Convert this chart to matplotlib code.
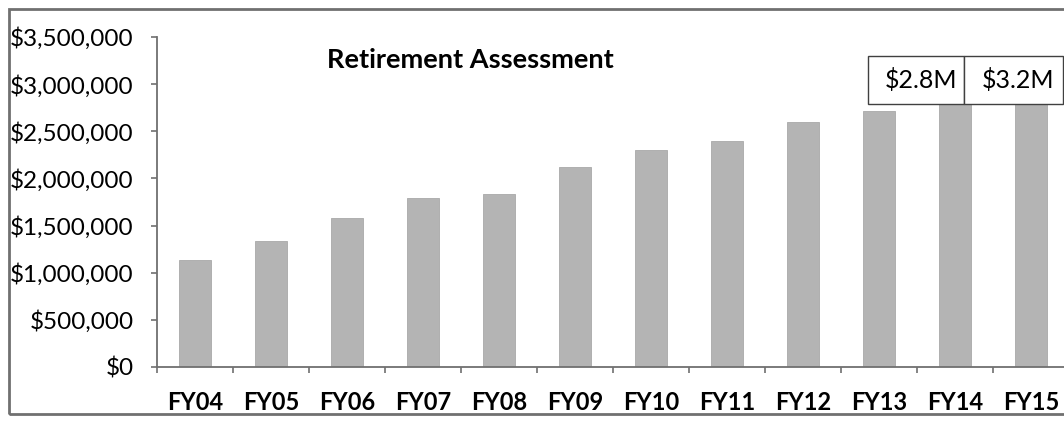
import numpy as np
import matplotlib.pyplot as plt
from matplotlib.patches import Rectangle
from matplotlib.ticker import FuncFormatter

plt.rcParams["font.family"] = ["Lato", "DejaVu Sans"]

years = ["FY04", "FY05", "FY06", "FY07", "FY08", "FY09",
         "FY10", "FY11", "FY12", "FY13", "FY14", "FY15"]
values = [1135000, 1335000, 1580000, 1790000, 1835000, 2120000,
          2300000, 2400000, 2600000, 2715000, 2800000, 3200000]
callout_labels = ["$2.8M", "$3.2M"]

fig = plt.figure(figsize=(10.64, 4.21), dpi=100)
ax = fig.add_axes([157 / 1064, 54 / 421, 912 / 1064, 330 / 421])

x = np.arange(len(years))
ax.bar(x, values, width=0.42, color="#b4b4b4", edgecolor="#a8a8a8", linewidth=0.6, zorder=2)

ax.set_xlim(-0.5, len(years) - 0.5)
ax.set_ylim(0, 3500000)
ax.set_yticks(np.arange(0, 3500001, 500000))
ax.yaxis.set_major_formatter(FuncFormatter(lambda v, p: f"${v:,.0f}"))

# category labels centred, tick marks between categories
ax.set_xticks(x)
ax.set_xticklabels(years, fontsize=17, fontweight="bold")
ax.set_xticks(np.arange(-0.5, len(years), 1), minor=True)
ax.tick_params(axis="x", which="major", length=0, pad=17)
ax.tick_params(axis="x", which="minor", length=4, width=1.2, color="#707070", direction="out")
ax.tick_params(axis="y", length=4, width=1.2, color="#707070", labelsize=17.5, pad=13)

for s in ["top", "right"]:
    ax.spines[s].set_visible(False)
for s in ["left", "bottom"]:
    ax.spines[s].set_color("#707070")
    ax.spines[s].set_linewidth(1.3)

ax.text(0.344, 0.93, "Retirement Assessment", transform=ax.transAxes,
        ha="center", va="center", fontsize=19.5, fontweight="bold")

# white call-out boxes over the last two bars
box_edges = [8.86, 10.12, 11.42]
for i, lab in enumerate(callout_labels):
    x0, x1 = box_edges[i], box_edges[i + 1]
    ax.add_patch(Rectangle((x0, 2789000), x1 - x0, 509000, facecolor="white",
                           edgecolor="#404040", linewidth=1.0, zorder=5, clip_on=False))
    ax.text((x0 + x1) / 2 + 0.06, 3043000, lab, ha="center", va="center",
            fontsize=18, zorder=6)

# outer frame of the chart
fig.patches.append(Rectangle((9 / 1064, 7 / 421), 1.1, 405 / 421, transform=fig.transFigure,
                             fill=False, edgecolor="#707070", linewidth=2))

plt.savefig("out.png", dpi=100)
plt.close()
